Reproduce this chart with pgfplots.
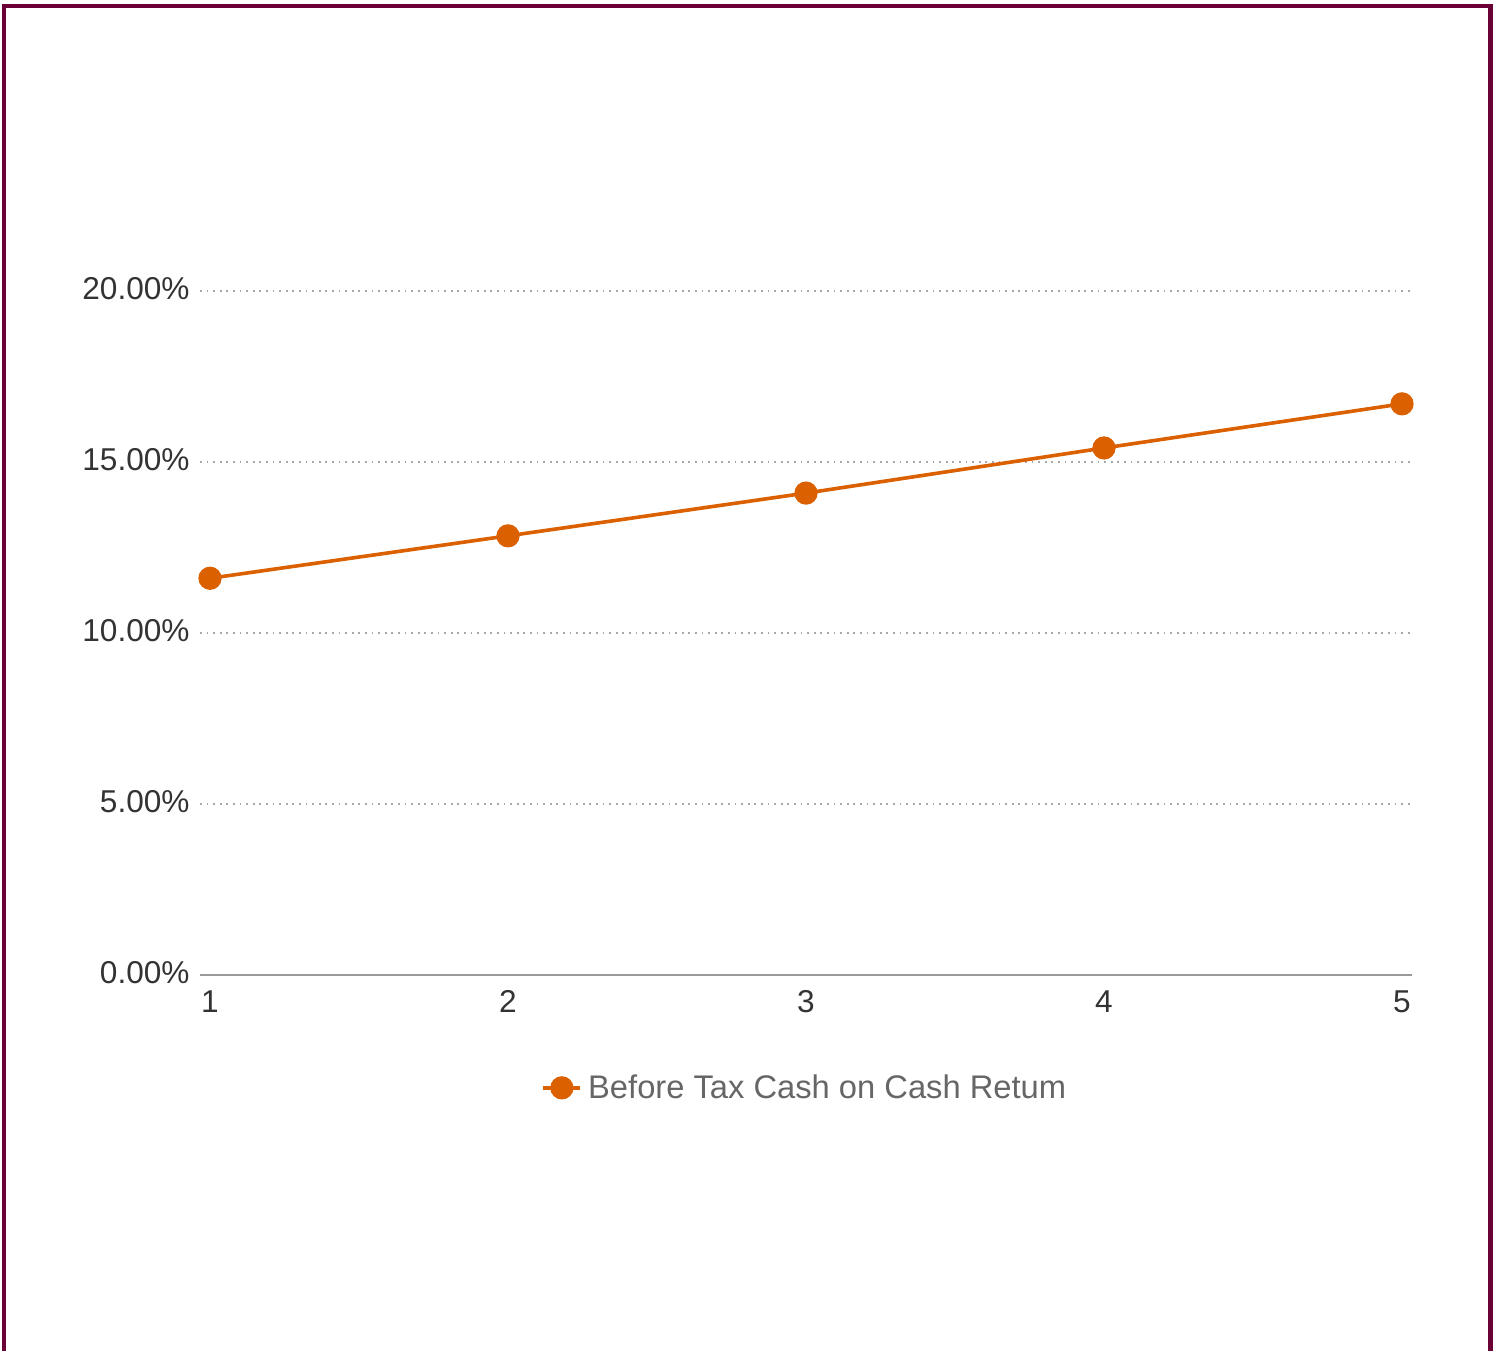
\documentclass[border=0pt]{standalone}
\usepackage{fontspec}
\setmainfont{Liberation Sans}
\usepackage{pgfplots}
\pgfplotsset{compat=1.18}

\definecolor{framec}{HTML}{6B0037}
\definecolor{seriesc}{HTML}{DB6000}
\definecolor{gridc}{HTML}{A8A8A8}
\definecolor{axisc}{HTML}{9A9A9A}
\definecolor{tickc}{HTML}{333333}
\definecolor{legc}{HTML}{666666}

\begin{document}
\begin{tikzpicture}[x=1pt,y=1pt]
% page extent
\path (0,0) rectangle (749.5,675.5);
% frame (open at the bottom)
\draw[framec, line width=2.2pt, line join=miter] (1.85,0) -- (1.85,672.5) -- (745.25,672.5) -- (745.25,0);

\begin{axis}[
  at={(100pt,188pt)}, anchor=south west,
  scale only axis, width=606pt, height=342pt,
  xmin=0.9664, xmax=5.0336, ymin=0, ymax=20,
  clip=false,
  axis x line*=bottom, axis y line*=left,
  x axis line style={-, axisc, line width=1.1pt},
  y axis line style={draw=none},
  xtick={1,2,3,4,5}, ytick={0,5,10,15,20},
  major tick length=0pt,
  ymajorgrids,
  major grid style={gridc, line width=0.9pt, dash pattern=on 0.9pt off 2.4pt},
  /pgf/number format/assume math mode=true,
  yticklabel={\pgfmathprintnumber[fixed,fixed zerofill,precision=2]{\tick}\%},
  xticklabel={\pgfmathprintnumber{\tick}},
  tick label style={font=\fontsize{15.8}{18}\selectfont, text=tickc},
  yticklabel style={anchor=east, inner sep=0pt, xshift=-5pt, yshift=1pt},
  xticklabel style={anchor=north, inner sep=0pt, yshift=-7.5pt},
  legend style={at={(0.2815,-0.165)}, anchor=west, draw=none, fill=none,
    inner sep=0pt, font=\fontsize{16.35}{19}\selectfont, text=legc,
    nodes={inner sep=0pt}, column sep=3pt},
  legend image code/.code={%
    \draw[mark repeat=2, mark phase=2, #1] plot coordinates {(0pt,0pt) (9.25pt,0pt) (18.5pt,0pt)};},
]
\addplot[seriesc, line width=1.8pt, mark=*, mark size=4.9pt,
  mark options={fill=seriesc, draw=none}]
  coordinates {(1,11.60) (2,12.84) (3,14.09) (4,15.41) (5,16.70)};
\addlegendentry{Before Tax Cash on Cash Retum}
\end{axis}
\end{tikzpicture}
\end{document}
